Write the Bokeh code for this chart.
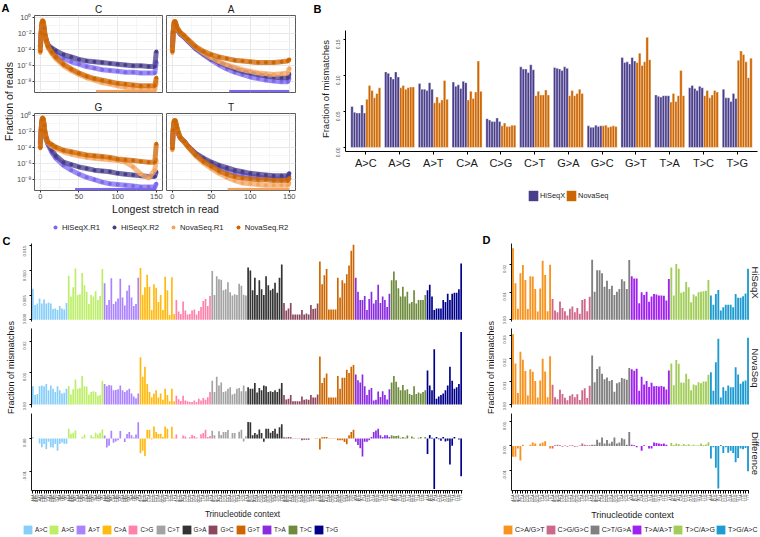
import math
from bokeh.plotting import figure
from bokeh.layouts import row, column
from bokeh.models import (FixedTicker, Grid, Label, Legend, LegendItem, NumeralTickFormatter)
from bokeh.embed import file_html
from bokeh.resources import INLINE

FONT = "Liberation Sans"

# ---------------- Panel A data (log10 fraction of reads) ----------------
A_SERIES = ["HiSeqX.R1", "HiSeqX.R2", "NovaSeq.R1", "NovaSeq.R2"]
A_COLORS = ["#7B68EE", "#483D8B", "#F4A460", "#CD6600"]
A_X = [0, 1, 2, 3, 4, 5, 6, 8, 10, 15, 20, 30, 40, 50, 60, 70, 80, 90, 100, 110, 120, 130, 140, 148, 150]

A_C_HISEQ_R1 = [-3.7, -2.2, -0.9, -0.6, -0.8, -1.5, -2.2, -2.9, -3.5, -4.1, -4.5, -5.1, -5.5, -5.8, -6.1, -6.3, -6.5, -6.6, -6.7, -6.8, -6.8, -6.9, -6.9, -6.9, -5.5]
A_C_HISEQ_R2 = [-3.6, -2.1, -0.9, -0.6, -0.8, -1.5, -2.2, -2.9, -3.4, -3.8, -4.1, -4.6, -4.9, -5.2, -5.4, -5.5, -5.6, -5.7, -5.8, -5.9, -6.0, -6.0, -6.1, -6.1, -4.2]
A_C_NOVA_R1 = [-4.4, -2.0, -0.7, -0.4, -0.6, -1.4, -2.2, -3.0, -3.7, -4.5, -5.1, -6.0, -6.6, -7.1, -7.5, -7.8, -8.1, -8.3, -8.5, -8.7, -8.8, -8.9, -9.0, -9.0, -8.0]
A_C_NOVA_R2 = [-4.2, -1.9, -0.6, -0.3, -0.5, -1.3, -2.1, -2.9, -3.6, -4.3, -4.9, -5.8, -6.4, -6.9, -7.3, -7.6, -7.8, -8.0, -8.2, -8.3, -8.4, -8.5, -8.5, -8.5, -7.5]

A_A_HISEQ_R1 = [-3.7, -2.0, -0.9, -0.7, -0.8, -1.1, -1.4, -1.7, -2.0, -2.4, -2.9, -3.9, -4.6, -5.3, -5.9, -6.4, -6.8, -7.1, -7.4, -7.6, -7.8, -7.9, -8.0, -8.0, -7.5]
A_A_HISEQ_R2 = [-3.6, -2.0, -0.9, -0.7, -0.8, -1.1, -1.4, -1.7, -2.0, -2.4, -2.9, -3.8, -4.5, -5.1, -5.6, -6.0, -6.4, -6.7, -6.9, -7.1, -7.3, -7.4, -7.5, -7.5, -7.0]
A_A_NOVA_R1 = [-4.4, -1.9, -0.7, -0.5, -0.6, -1.0, -1.3, -1.6, -1.9, -2.3, -2.8, -3.7, -4.4, -5.0, -5.5, -5.9, -6.2, -6.5, -6.7, -6.9, -7.0, -7.1, -7.0, -6.9, -6.3]
A_A_NOVA_R2 = [-4.2, -1.8, -0.6, -0.4, -0.5, -0.9, -1.2, -1.5, -1.8, -2.2, -2.7, -3.6, -4.2, -4.6, -4.9, -5.1, -5.3, -5.4, -5.5, -5.6, -5.6, -5.6, -5.5, -5.4, -5.2]

A_G_HISEQ_R1 = [-3.5, -2.0, -0.8, -0.4, -0.6, -1.4, -2.2, -3.0, -3.6, -4.6, -5.3, -6.2, -6.8, -7.3, -7.7, -8.0, -8.3, -8.5, -8.6, -8.7, -8.8, -8.9, -8.9, -8.9, -8.5]
A_G_HISEQ_R2 = [-3.4, -2.0, -0.8, -0.4, -0.6, -1.4, -2.2, -3.0, -3.5, -4.3, -5.0, -5.8, -6.1, -6.4, -6.6, -6.8, -6.9, -7.0, -7.2, -7.3, -7.4, -7.5, -7.6, -7.6, -7.0]
A_G_NOVA_R1 = [-4.1, -1.9, -0.6, -0.3, -0.5, -1.3, -2.1, -2.9, -3.4, -3.8, -4.1, -4.5, -4.8, -5.0, -5.2, -5.3, -5.4, -5.5, -5.6, -5.8, -6.4, -7.3, -7.8, -6.8, -5.5]
A_G_NOVA_R2 = [-4.0, -1.8, -0.5, -0.2, -0.4, -1.2, -2.0, -2.8, -3.3, -3.6, -3.9, -4.3, -4.5, -4.7, -4.9, -5.0, -5.1, -5.2, -5.4, -5.5, -5.6, -5.7, -5.8, -5.8, -3.5]

A_T_HISEQ_R1 = [-3.6, -2.0, -1.0, -0.8, -0.9, -1.3, -1.7, -2.3, -2.7, -3.2, -3.8, -4.8, -5.5, -6.0, -6.5, -6.9, -7.2, -7.4, -7.6, -7.7, -7.8, -7.9, -7.9, -7.9, -7.6]
A_T_HISEQ_R2 = [-3.5, -2.0, -1.0, -0.8, -0.9, -1.3, -1.7, -2.3, -2.7, -3.2, -3.8, -4.7, -5.3, -5.8, -6.2, -6.5, -6.8, -7.0, -7.2, -7.3, -7.4, -7.5, -7.5, -7.5, -7.2]
A_T_NOVA_R1 = [-4.3, -1.9, -0.8, -0.6, -0.7, -1.2, -1.6, -2.2, -2.7, -3.3, -3.9, -5.0, -5.9, -6.6, -7.2, -7.7, -8.1, -8.4, -8.5, -8.6, -8.7, -8.7, -8.7, -8.7, -8.4]
A_T_NOVA_R2 = [-4.1, -1.8, -0.7, -0.5, -0.6, -1.1, -1.5, -2.1, -2.7, -3.2, -3.8, -4.9, -5.7, -6.3, -6.9, -7.3, -7.6, -7.8, -7.9, -8.0, -8.0, -8.1, -8.1, -8.1, -7.8]

A_DATA = {
    "C": [A_C_HISEQ_R1, A_C_HISEQ_R2, A_C_NOVA_R1, A_C_NOVA_R2],
    "A": [A_A_HISEQ_R1, A_A_HISEQ_R2, A_A_NOVA_R1, A_A_NOVA_R2],
    "G": [A_G_HISEQ_R1, A_G_HISEQ_R2, A_G_NOVA_R1, A_G_NOVA_R2],
    "T": [A_T_HISEQ_R1, A_T_HISEQ_R2, A_T_NOVA_R1, A_T_NOVA_R2],
}
A_FLOOR = -9.2
A_FLOOR_SERIES = {"C": 2, "A": 0, "G": 0, "T": 2}
A_FLOOR_START = {"C": 72, "A": 73, "G": 45, "T": 71}
A_FLOOR_END = 150
A_XTICKS = [0, 50, 100, 150]
A_XMINOR = [25, 75, 125]
A_YTICKS = [-8, -6, -4, -2, 0]
A_YMINOR = [-9, -7, -5, -3, -1]
A_YLABELS = ["10\u207b\u2078", "10\u207b\u2076", "10\u207b\u2074", "10\u207b\u00b2", "10\u2070"]

# ---------------- Panel B data ----------------
B_CATS = ["A>C", "A>G", "A>T", "C>A", "C>G", "C>T", "G>A", "G>C", "G>T", "T>A", "T>C", "T>G"]
B_HISEQ = [
    [0.057, 0.049, 0.048, 0.048, 0.059, 0.048],
    [0.105, 0.103, 0.098, 0.095, 0.105, 0.098],
    [0.089, 0.081, 0.081, 0.079, 0.090, 0.081],
    [0.091, 0.085, 0.087, 0.082, 0.092, 0.090],
    [0.040, 0.038, 0.036, 0.036, 0.041, 0.036],
    [0.112, 0.109, 0.109, 0.104, 0.115, 0.108],
    [0.111, 0.110, 0.109, 0.107, 0.112, 0.110],
    [0.030, 0.028, 0.028, 0.031, 0.029, 0.030],
    [0.125, 0.118, 0.119, 0.116, 0.125, 0.120],
    [0.073, 0.071, 0.070, 0.072, 0.072, 0.072],
    [0.083, 0.086, 0.082, 0.079, 0.085, 0.083],
    [0.081, 0.069, 0.069, 0.064, 0.075, 0.068],
]
B_NOVA = [
    [0.067, 0.086, 0.079, 0.069, 0.075, 0.083],
    [0.083, 0.086, 0.081, 0.083, 0.084, 0.084],
    [0.062, 0.070, 0.062, 0.066, 0.093, 0.067],
    [0.066, 0.078, 0.068, 0.077, 0.120, 0.078],
    [0.030, 0.034, 0.029, 0.029, 0.031, 0.031],
    [0.072, 0.078, 0.073, 0.073, 0.080, 0.073],
    [0.072, 0.079, 0.072, 0.075, 0.081, 0.075],
    [0.030, 0.031, 0.028, 0.029, 0.030, 0.029],
    [0.118, 0.131, 0.114, 0.119, 0.153, 0.122],
    [0.063, 0.075, 0.064, 0.072, 0.107, 0.072],
    [0.072, 0.079, 0.069, 0.073, 0.079, 0.077],
    [0.121, 0.134, 0.129, 0.119, 0.097, 0.124],
]
B_GROUPS = ["HiSeqX", "NovaSeq"]
B_COLORS = ["#483D8B", "#CD6600"]
B_YTICKS = [0, 0.05, 0.10, 0.15]

# ---------------- Panel C data (12 mutation types x 16 contexts) ----------------
BASES = ["A", "C", "G", "T"]
C_TYPES = ["A>C", "A>G", "A>T", "C>A", "C>G", "C>T", "G>A", "G>C", "G>T", "T>A", "T>C", "T>G"]
C_COLORS = ["#87CEFA", "#BCEE68", "#AB82FF", "#FFB90F", "#FF82AB", "#A3A3A3",
            "#333333", "#8B475D", "#CD6600", "#8A2BE2", "#6E8B3D", "#00008B"]
C_HISEQ = {
    "A>C": [0.0063, 0.0030, 0.0033, 0.0043, 0.0033, 0.0041, 0.0033, 0.0035, 0.0033, 0.0022, 0.0023, 0.0020, 0.0028, 0.0023, 0.0021, 0.0034],
    "A>G": [0.0089, 0.0047, 0.0066, 0.0104, 0.0050, 0.0052, 0.0095, 0.0070, 0.0057, 0.0032, 0.0050, 0.0047, 0.0058, 0.0040, 0.0048, 0.0103],
    "A>T": [0.0074, 0.0030, 0.0040, 0.0084, 0.0032, 0.0037, 0.0043, 0.0083, 0.0045, 0.0029, 0.0059, 0.0070, 0.0045, 0.0028, 0.0032, 0.0085],
    "C>A": [0.0105, 0.0050, 0.0066, 0.0091, 0.0067, 0.0020, 0.0072, 0.0065, 0.0036, 0.0050, 0.0020, 0.0087, 0.0060, 0.0010, 0.0086, 0.0012],
    "C>G": [0.0040, 0.0017, 0.0012, 0.0037, 0.0019, 0.0011, 0.0012, 0.0019, 0.0021, 0.0011, 0.0018, 0.0026, 0.0038, 0.0042, 0.0028, 0.0048],
    "C>T": [0.0099, 0.0050, 0.0088, 0.0082, 0.0081, 0.0060, 0.0062, 0.0076, 0.0056, 0.0049, 0.0052, 0.0050, 0.0073, 0.0069, 0.0051, 0.0049],
    "G>A": [0.0106, 0.0100, 0.0060, 0.0085, 0.0050, 0.0080, 0.0062, 0.0050, 0.0088, 0.0070, 0.0060, 0.0063, 0.0075, 0.0055, 0.0085, 0.0112],
    "G>C": [0.0034, 0.0019, 0.0023, 0.0034, 0.0011, 0.0011, 0.0011, 0.0011, 0.0020, 0.0011, 0.0013, 0.0011, 0.0030, 0.0022, 0.0023, 0.0033],
    "G>T": [0.0118, 0.0072, 0.0090, 0.0103, 0.0021, 0.0021, 0.0021, 0.0021, 0.0085, 0.0045, 0.0080, 0.0074, 0.0092, 0.0110, 0.0140, 0.0152],
    "T>A": [0.0085, 0.0057, 0.0040, 0.0040, 0.0048, 0.0020, 0.0042, 0.0057, 0.0033, 0.0040, 0.0071, 0.0034, 0.0047, 0.0040, 0.0026, 0.0053],
    "T>C": [0.0080, 0.0098, 0.0080, 0.0064, 0.0047, 0.0067, 0.0047, 0.0057, 0.0033, 0.0036, 0.0060, 0.0033, 0.0040, 0.0040, 0.0040, 0.0050],
    "T>G": [0.0060, 0.0071, 0.0047, 0.0020, 0.0023, 0.0023, 0.0023, 0.0040, 0.0036, 0.0053, 0.0040, 0.0053, 0.0055, 0.0055, 0.0062, 0.0114],
}
C_NOVA = {
    "A>C": [0.0058, 0.0030, 0.0033, 0.0058, 0.0060, 0.0058, 0.0065, 0.0045, 0.0060, 0.0050, 0.0040, 0.0058, 0.0045, 0.0035, 0.0037, 0.0050],
    "A>G": [0.0059, 0.0032, 0.0048, 0.0079, 0.0050, 0.0052, 0.0090, 0.0058, 0.0057, 0.0032, 0.0040, 0.0042, 0.0040, 0.0028, 0.0030, 0.0075],
    "A>T": [0.0065, 0.0058, 0.0062, 0.0060, 0.0045, 0.0046, 0.0048, 0.0060, 0.0045, 0.0040, 0.0045, 0.0050, 0.0035, 0.0025, 0.0020, 0.0035],
    "C>A": [0.0150, 0.0088, 0.0120, 0.0065, 0.0040, 0.0023, 0.0035, 0.0045, 0.0022, 0.0035, 0.0015, 0.0050, 0.0030, 0.0010, 0.0050, 0.0010],
    "C>G": [0.0028, 0.0017, 0.0011, 0.0028, 0.0013, 0.0010, 0.0008, 0.0008, 0.0013, 0.0008, 0.0018, 0.0013, 0.0021, 0.0015, 0.0023, 0.0040],
    "C>T": [0.0075, 0.0040, 0.0088, 0.0060, 0.0070, 0.0040, 0.0042, 0.0050, 0.0055, 0.0032, 0.0035, 0.0050, 0.0052, 0.0042, 0.0060, 0.0042],
    "G>A": [0.0055, 0.0050, 0.0050, 0.0068, 0.0038, 0.0052, 0.0045, 0.0060, 0.0058, 0.0040, 0.0042, 0.0040, 0.0045, 0.0040, 0.0050, 0.0068],
    "G>C": [0.0030, 0.0016, 0.0018, 0.0030, 0.0010, 0.0010, 0.0010, 0.0010, 0.0025, 0.0015, 0.0017, 0.0015, 0.0030, 0.0022, 0.0022, 0.0032],
    "G>T": [0.0152, 0.0068, 0.0085, 0.0098, 0.0022, 0.0022, 0.0022, 0.0022, 0.0090, 0.0050, 0.0085, 0.0085, 0.0110, 0.0100, 0.0120, 0.0125],
    "T>A": [0.0095, 0.0077, 0.0070, 0.0095, 0.0058, 0.0030, 0.0047, 0.0052, 0.0013, 0.0015, 0.0041, 0.0024, 0.0042, 0.0030, 0.0016, 0.0048],
    "T>C": [0.0070, 0.0090, 0.0072, 0.0055, 0.0045, 0.0062, 0.0045, 0.0048, 0.0033, 0.0030, 0.0058, 0.0033, 0.0038, 0.0035, 0.0040, 0.0045],
    "T>G": [0.0108, 0.0060, 0.0045, 0.0175, 0.0018, 0.0025, 0.0030, 0.0035, 0.0045, 0.0060, 0.0120, 0.0075, 0.0050, 0.0055, 0.0065, 0.0230],
}

# ---------------- Panel D data (6 collapsed types x 16 contexts) ----------------
D_TYPES = ["C>A/G>T", "C>G/G>C", "C>T/G>A", "T>A/A>T", "T>C/A>G", "T>G/A>C"]
D_COLORS = ["#F7931E", "#CD6889", "#808080", "#A020F0", "#A2CD5A", "#1E9BD1"]
D_HISEQ = {
    "C>A/G>T": [0.0260, 0.0133, 0.0040, 0.0169, 0.0199, 0.0145, 0.0039, 0.0158, 0.0157, 0.0112, 0.0030, 0.0114, 0.0214, 0.0163, 0.0031, 0.0200],
    "C>G/G>C": [0.0076, 0.0034, 0.0028, 0.0067, 0.0043, 0.0031, 0.0016, 0.0040, 0.0048, 0.0028, 0.0043, 0.0022, 0.0072, 0.0076, 0.0031, 0.0084],
    "C>T/G>A": [0.0218, 0.0102, 0.0180, 0.0180, 0.0169, 0.0120, 0.0142, 0.0112, 0.0124, 0.0090, 0.0102, 0.0112, 0.0147, 0.0140, 0.0112, 0.0217],
    "T>A/A>T": [0.0158, 0.0150, 0.0150, 0.0060, 0.0100, 0.0090, 0.0102, 0.0066, 0.0085, 0.0094, 0.0092, 0.0088, 0.0088, 0.0087, 0.0070, 0.0148],
    "T>C/A>G": [0.0190, 0.0088, 0.0203, 0.0185, 0.0098, 0.0102, 0.0137, 0.0118, 0.0064, 0.0092, 0.0086, 0.0100, 0.0102, 0.0104, 0.0106, 0.0145],
    "T>G/A>C": [0.0088, 0.0055, 0.0094, 0.0108, 0.0034, 0.0046, 0.0055, 0.0055, 0.0055, 0.0046, 0.0094, 0.0080, 0.0080, 0.0086, 0.0096, 0.0185],
}
D_NOVA = {
    "C>A/G>T": [0.0305, 0.0178, 0.0050, 0.0229, 0.0194, 0.0145, 0.0039, 0.0153, 0.0142, 0.0102, 0.0030, 0.0104, 0.0199, 0.0143, 0.0031, 0.0210],
    "C>G/G>C": [0.0086, 0.0031, 0.0023, 0.0064, 0.0046, 0.0029, 0.0019, 0.0038, 0.0045, 0.0031, 0.0045, 0.0020, 0.0062, 0.0071, 0.0028, 0.0081],
    "C>T/G>A": [0.0213, 0.0097, 0.0154, 0.0165, 0.0134, 0.0110, 0.0117, 0.0102, 0.0106, 0.0055, 0.0092, 0.0097, 0.0115, 0.0112, 0.0107, 0.0159],
    "T>A/A>T": [0.0153, 0.0147, 0.0155, 0.0060, 0.0120, 0.0087, 0.0102, 0.0076, 0.0095, 0.0079, 0.0080, 0.0078, 0.0080, 0.0077, 0.0065, 0.0148],
    "T>C/A>G": [0.0178, 0.0084, 0.0193, 0.0177, 0.0096, 0.0094, 0.0134, 0.0111, 0.0062, 0.0087, 0.0084, 0.0097, 0.0092, 0.0100, 0.0100, 0.0129],
    "T>G/A>C": [0.0140, 0.0060, 0.0184, 0.0285, 0.0030, 0.0075, 0.0060, 0.0083, 0.0075, 0.0075, 0.0162, 0.0130, 0.0090, 0.0100, 0.0104, 0.0290],
}
D_STRIPS = ["HiSeqX", "NovaSeq", "Difference"]

# ======================= helpers =======================
OFF = (1000, 1001)   # range for text/legend-only figures (their data lie outside it)


def make_fig(w, h, xr, yr, l, r, t, b, xloc=None, yloc=None):
    p = figure(width=w, height=h, x_range=xr, y_range=yr,
               x_axis_location=xloc, y_axis_location=yloc,
               output_backend="svg", toolbar_location=None, title=None,
               min_border_left=l, min_border_right=r, min_border_top=t, min_border_bottom=b)
    p.outline_line_color = None
    p.background_fill_color = "white"
    p.border_fill_color = "white"
    p.xgrid.visible = False
    p.ygrid.visible = False
    return p


def text_fig(w, h):
    return make_fig(w, h, OFF, OFF, 0, 0, 0, 0)


def add_text(p, x, y, text, size, angle=0.0, align="center", baseline="middle",
             bold=False, color="#1A1A1A"):
    p.add_layout(Label(x=x, y=y, x_units="screen", y_units="screen", text=text,
                       angle=angle, text_align=align, text_baseline=baseline,
                       text_font=FONT, text_font_size=f"{size}px",
                       text_font_style="bold" if bold else "normal", text_color=color))


def style_axis(ax, size, color, tick_out=2, standoff=1, tick_color="#333333"):
    ax.major_tick_out = tick_out
    ax.major_tick_in = 0
    ax.minor_tick_out = 0
    ax.minor_tick_in = 0
    ax.major_tick_line_color = tick_color
    ax.major_label_standoff = standoff
    ax.major_label_text_font = FONT
    ax.major_label_text_font_size = size
    ax.major_label_text_color = color


def make_legend(p, labels, renderers, loc, gw, gh, font_size, standoff, spacing):
    items = [LegendItem(label=lab, renderers=[r]) for lab, r in zip(labels, renderers)]
    leg = Legend(items=items, location=loc, orientation="horizontal",
                 glyph_width=gw, glyph_height=gh, label_standoff=standoff, spacing=spacing,
                 padding=0, margin=0, border_line_color=None, background_fill_alpha=0,
                 label_text_font=FONT, label_text_font_size=f"{font_size}px",
                 label_text_color="#1A1A1A", label_height=gh, label_width=0)
    p.add_layout(leg)


# ======================= Panel A =======================
def a_facet(facet, w, h, l, r, t, b, show_x, show_y):
    p = figure(width=w, height=h, x_range=(-7.5, 158), y_range=(-9.35, 0.3),
               x_axis_location="below" if show_x else None,
               y_axis_location="left" if show_y else None,
               output_backend="svg", toolbar_location=None, title=facet,
               min_border_left=l, min_border_right=r, min_border_top=t, min_border_bottom=b)
    p.title.align = "center"
    p.title.text_font = FONT
    p.title.text_font_size = "10px"
    p.title.text_font_style = "normal"
    p.title.text_color = "#1A1A1A"
    p.title.standoff = 2
    p.outline_line_color = "#5A5A5A"
    p.outline_line_width = 1
    p.background_fill_color = "white"
    p.border_fill_color = "white"
    p.xgrid.visible = False
    p.ygrid.visible = False
    for dim, ticks, minor in ((0, A_XTICKS, A_XMINOR), (1, A_YTICKS, A_YMINOR)):
        p.add_layout(Grid(dimension=dim, ticker=FixedTicker(ticks=ticks, minor_ticks=minor),
                          grid_line_color="#E8E8E8", grid_line_width=1,
                          minor_grid_line_color="#F0F0F0", minor_grid_line_width=0.6))
    for k, col in enumerate(A_COLORS):
        vals = A_DATA[facet][k]
        p.line(A_X, vals, line_color=col, line_width=5, line_alpha=0.75)
        p.scatter(A_X, vals, size=4, fill_color=col, line_color=None)
    fk = A_FLOOR_SERIES[facet]
    p.line([A_FLOOR_START[facet], A_FLOOR_END], [A_FLOOR, A_FLOOR],
           line_color=A_COLORS[fk], line_width=2.5)
    if show_x:
        ax = p.xaxis[0]
        ax.ticker = FixedTicker(ticks=A_XTICKS)
        style_axis(ax, "7.5px", "#4D4D4D")
        ax.axis_line_color = None
    if show_y:
        ay = p.yaxis[0]
        ay.ticker = FixedTicker(ticks=A_YTICKS)
        ay.major_label_overrides = dict(zip(A_YTICKS, A_YLABELS))
        style_axis(ay, "7.5px", "#4D4D4D")
        ay.axis_line_color = None
    return p


fCf = a_facet("C", 151, 94, 19, 2, 15, 2, False, True)
fAf = a_facet("A", 143, 94, 2, 12, 15, 2, False, False)
fGf = a_facet("G", 151, 108, 19, 2, 19, 12, True, True)
fTf = a_facet("T", 143, 108, 2, 12, 19, 12, True, False)

ylabA = text_fig(13, 202)
add_text(ylabA, 1, 195, "A", 11, align="left", bold=True, color="black")
add_text(ylabA, 8, 101, "Fraction of reads", 10.5, angle=math.pi / 2)

fAleg = text_fig(307, 30)
add_text(fAleg, 165, 24, "Longest stretch in read", 10.5)
a_rs = [fAleg.scatter(A_X, A_DATA["C"][k], size=5.5, fill_color=c, line_color=None)
        for k, c in enumerate(A_COLORS)]
make_legend(fAleg, A_SERIES, a_rs, (50, 0), 10, 10, 7.7, 2, 9)

A_block = column(row(ylabA, column(row(fCf, fAf), row(fGf, fTf))), fAleg)

# ======================= Panel B =======================
B_BAR_W = 0.074
fB = make_fig(429, 172, (-0.6, 11.6), (-0.0056, 0.1625), 13, 3, 30, 21, xloc="below", yloc="left")
bx, bt, bc = [], [], []
for i in range(len(B_CATS)):
    vals = B_HISEQ[i] + B_NOVA[i]
    cols = [B_COLORS[0]] * len(B_HISEQ[i]) + [B_COLORS[1]] * len(B_NOVA[i])
    n = len(vals)
    for j, (v, c) in enumerate(zip(vals, cols)):
        bx.append(i + (j - (n - 1) / 2) * B_BAR_W)
        bt.append(v)
        bc.append(c)
fB.vbar(x=bx, top=bt, bottom=0, width=B_BAR_W, fill_color=bc, line_color="white", line_width=0.4)
xa = fB.xaxis[0]
xa.ticker = FixedTicker(ticks=list(range(len(B_CATS))))
xa.major_label_overrides = {i: c for i, c in enumerate(B_CATS)}
style_axis(xa, "11px", "#1A1A1A", tick_out=3, standoff=2, tick_color="black")
xa.axis_line_color = "black"
xa.axis_line_width = 1
ya = fB.yaxis[0]
ya.ticker = FixedTicker(ticks=B_YTICKS)
ya.formatter = NumeralTickFormatter(format="0.00")
ya.major_label_orientation = math.pi / 2
style_axis(ya, "5px", "#4D4D4D", tick_out=2, standoff=5, tick_color="black")
ya.axis_line_color = "black"
ya.axis_line_width = 1

ylabB = text_fig(24, 232)
add_text(ylabB, 6, 224, "B", 11, align="left", bold=True, color="black")
add_text(ylabB, 18, 143.5, "Fraction of mismatches", 9.5, angle=math.pi / 2)

fBleg = text_fig(429, 60)
b_rs = [fBleg.vbar(x=list(range(len(B_CATS))), top=[v[0] for v in grp], width=0.5,
                   fill_color=c, line_color=None)
        for grp, c in zip((B_HISEQ, B_NOVA), B_COLORS)]
make_legend(fBleg, B_GROUPS, b_rs, (182, 30.5), 12, 13, 7.4, 1, 0)

B_block = row(ylabB, column(fB, fBleg))


# ======================= Panels C & D =======================
def build_bars(types, colors, hi, nova):
    xs, c, h, n, d, labels = [], [], [], [], [], []
    k = 0
    for t, col in zip(types, colors):
        ctx = [b5 + t[0] + b3 for b5 in BASES for b3 in BASES]
        for j in range(len(hi[t])):
            xs.append(k)
            c.append(col)
            h.append(hi[t][j])
            n.append(nova[t][j])
            d.append(hi[t][j] - nova[t][j])
            labels.append(ctx[j])
            k += 1
    return xs, c, h, n, d, labels


def bar_facet(w, h, xr, yr, l, r, t, b, xs, vals, cols, yticks, yfmt, labels=None):
    p = make_fig(w, h, xr, yr, l, r, t, b, xloc="below" if labels else None, yloc="left")
    p.vbar(x=xs, top=vals, bottom=0, width=0.75, fill_color=cols, line_color=None)
    ay = p.yaxis[0]
    ay.ticker = FixedTicker(ticks=yticks)
    ay.formatter = NumeralTickFormatter(format=yfmt)
    ay.major_label_orientation = math.pi / 2
    style_axis(ay, "4.3px", "#4D4D4D", tick_out=2, standoff=5, tick_color="black")
    ay.axis_line_color = "black"
    ay.axis_line_width = 0.9
    if labels:
        ax = p.xaxis[0]
        ax.ticker = FixedTicker(ticks=list(xs))
        ax.major_label_overrides = {x: lab for x, lab in zip(xs, labels)}
        ax.major_label_orientation = math.pi / 2
        style_axis(ax, "3.5px", "#4D4D4D", tick_out=3, standoff=1, tick_color="black")
        ax.axis_line_color = "black"
        ax.axis_line_width = 0.9
    return p


def type_legend(p, types, colors, hi, loc, font_size, spacing):
    rs = [p.vbar(x=list(range(len(hi[t]))), top=hi[t], width=0.5, fill_color=c, line_color=None)
          for t, c in zip(types, colors)]
    make_legend(p, types, rs, loc, 11, 11, font_size, 2, spacing)


# ---- C ----
cx, ccol, chi, cnova, cdiff, clab = build_bars(C_TYPES, C_COLORS, C_HISEQ, C_NOVA)
CXR = (-0.6, len(cx) - 0.4)
fC1 = bar_facet(462, 92, CXR, (-0.00034, 0.01545), 15, 16, 11, 3, cx, chi, ccol,
                [0, 0.005, 0.010, 0.015], "0.000")
fC2 = bar_facet(462, 86, CXR, (-0.00095, 0.0241), 15, 16, 4, 3, cx, cnova, ccol,
                [0, 0.01, 0.02], "0.00")
fC3 = bar_facet(462, 95, CXR, (-0.0160, 0.0077), 15, 16, 3, 12, cx, cdiff, ccol,
                [-0.01, 0], "0.00", labels=clab)
ylabC = text_fig(16, 273)
add_text(ylabC, 2, 265, "C", 11, align="left", bold=True, color="black")
add_text(ylabC, 10.5, 138, "Fraction of mismatches", 9, angle=math.pi / 2)
fCleg = text_fig(478, 32)
add_text(fCleg, 242, 23, "Trinucleotide context", 8.2)
type_legend(fCleg, C_TYPES, C_COLORS, C_HISEQ, (22, 2.5), 6.3, 1)

# ---- D ----
dx, dcol, dhi, dnova, ddiff, dlab = build_bars(D_TYPES, D_COLORS, D_HISEQ, D_NOVA)
DXR = (-0.6, len(dx) - 0.4)
fD1 = bar_facet(255, 92, DXR, (-0.0006, 0.0277), 17, 0, 11, 3, dx, dhi, dcol,
                [0, 0.01, 0.02], "0.00")
fD2 = bar_facet(255, 86, DXR, (-0.0013, 0.0330), 17, 0, 4, 3, dx, dnova, dcol,
                [0, 0.01, 0.02, 0.03], "0.00")
fD3 = bar_facet(255, 95, DXR, (-0.0185, 0.0135), 17, 0, 3, 12, dx, ddiff, dcol,
                [-0.01, 0, 0.01], "0.00", labels=dlab)
ylabD = text_fig(16, 273)
add_text(ylabD, 4, 266, "D", 11, align="left", bold=True, color="black")
add_text(ylabD, 12, 138, "Fraction of mismatches", 9, angle=math.pi / 2)
stripD = text_fig(11, 273)
for lab, yc in zip(D_STRIPS, (223, 137.5, 52)):
    add_text(stripD, 6, yc, lab, 9.5, angle=-math.pi / 2)
fDleg = text_fig(282, 32)
add_text(fDleg, 154, 23, "Trinucleotide context", 9)
type_legend(fDleg, D_TYPES, D_COLORS, D_HISEQ, (24, 2.5), 7, 0)

C_block = column(row(ylabC, column(fC1, fC2, fC3)), fCleg)
D_block = column(row(ylabD, column(fD1, fD2, fD3), stripD), fDleg)

layout = column(row(A_block, B_block), row(C_block, D_block))

open("out.html", "w").write(file_html(layout, INLINE, title="Mismatch profiles"))
